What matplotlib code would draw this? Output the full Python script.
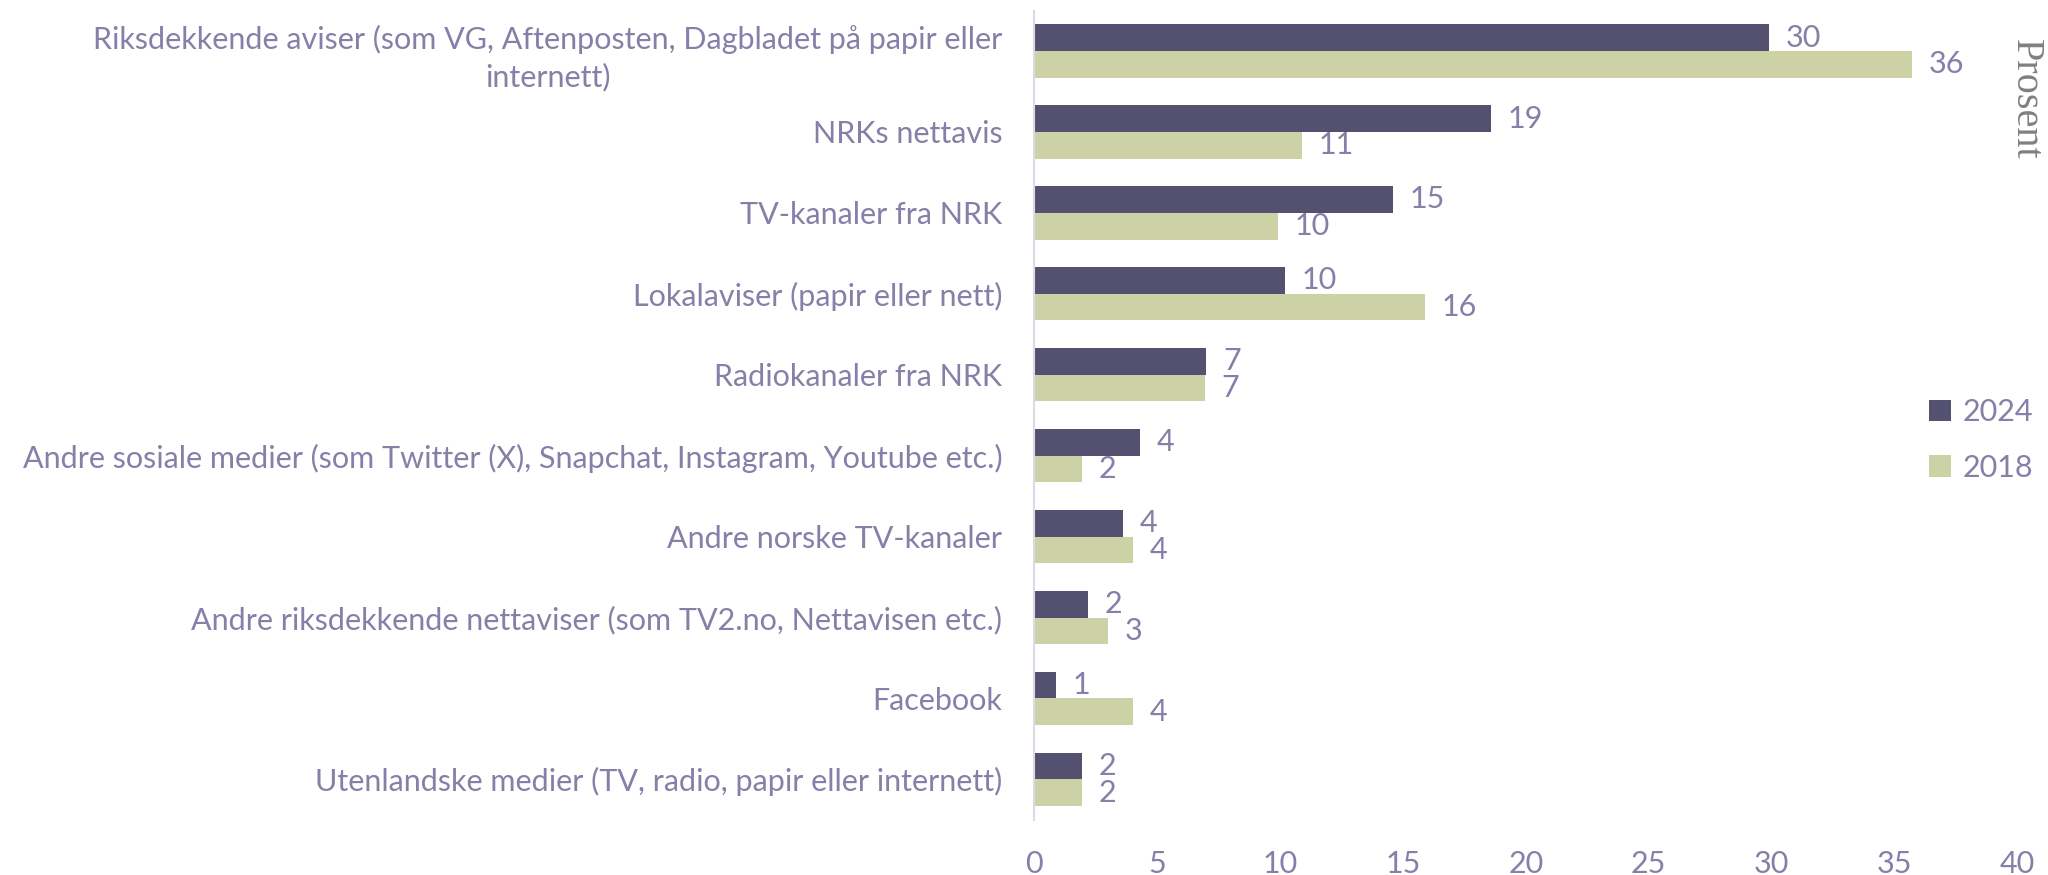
import numpy as np
import matplotlib
matplotlib.use("Agg")
import matplotlib.pyplot as plt
from matplotlib import font_manager

# Данные
categories = [
    "Riksdekkende aviser (som VG, Aftenposten, Dagbladet på papir eller\ninternett)",
    "NRKs nettavis",
    "TV-kanaler fra NRK",
    "Lokalaviser (papir eller nett)",
    "Radiokanaler fra NRK",
    "Andre sosiale medier (som Twitter (X), Snapchat, Instagram, Youtube etc.)",
    "Andre norske TV-kanaler",
    "Andre riksdekkende nettaviser (som TV2.no, Nettavisen etc.)",
    "Facebook",
    "Utenlandske medier (TV, radio, papir eller internett)",
]
values_2024 = [29.9, 18.6, 14.6, 10.2, 7.0, 4.3, 3.6, 2.2, 0.9, 1.95]
values_2018 = [35.7, 10.9, 9.9, 15.9, 6.95, 1.95, 4.0, 3.0, 4.0, 1.95]
series_names = ["2024", "2018"]
x_ticks = [0, 5, 10, 15, 20, 25, 30, 35, 40]

c_2024 = "#545070"
c_2018 = "#ccd2a6"
txt_col = "#8580a8"

names = {f.name for f in font_manager.fontManager.ttflist}
main_font = "Liberation Sans Narrow" if "Liberation Sans Narrow" in names else "Lato"
plt.rcParams["font.family"] = [main_font, "DejaVu Sans"]

fig = plt.figure(figsize=(20.48, 8.75), dpi=100)
ax = fig.add_axes([0.505, 0.063, 0.48, 0.925])

y = np.arange(len(categories))
h = 0.33
b1 = ax.barh(y - h / 2, values_2024, height=h, color=c_2024, label=series_names[0])
b2 = ax.barh(y + h / 2, values_2018, height=h, color=c_2018, label=series_names[1])

fs = 22
ax.bar_label(b1, fmt="%.0f", padding=12, color=txt_col, fontsize=fs)
ax.bar_label(b2, fmt="%.0f", padding=12, color=txt_col, fontsize=fs)

ax.set_ylim(len(categories) - 0.5, -0.5)
ax.set_xlim(0, 40)
ax.set_yticks(y)
ax.set_yticklabels(categories, fontsize=fs, color=txt_col, multialignment="center",
                   linespacing=1.4)
ax.set_xticks(x_ticks)
ax.set_xticklabels([str(t) for t in x_ticks], fontsize=fs, color=txt_col)
ax.tick_params(axis="y", length=0, pad=23)
ax.tick_params(axis="x", length=0, pad=22)

for s in ["top", "right", "bottom"]:
    ax.spines[s].set_visible(False)
ax.spines["left"].set_color("#dcdae8")
ax.spines["left"].set_linewidth(1.5)

leg = fig.legend(loc="center left", bbox_to_anchor=(0.942, 0.497), frameon=False,
                 fontsize=fs, handlelength=0.7, handleheight=0.7, handletextpad=0.4,
                 labelspacing=0.9, borderaxespad=0, borderpad=0)
for t in leg.get_texts():
    t.set_color(txt_col)

fig.text(0.989, 0.887, "Prosent", rotation=270, fontsize=29, color="#808080",
         family=["Liberation Serif", "DejaVu Serif"], ha="center", va="center")

fig.savefig("out.png", dpi=100)
